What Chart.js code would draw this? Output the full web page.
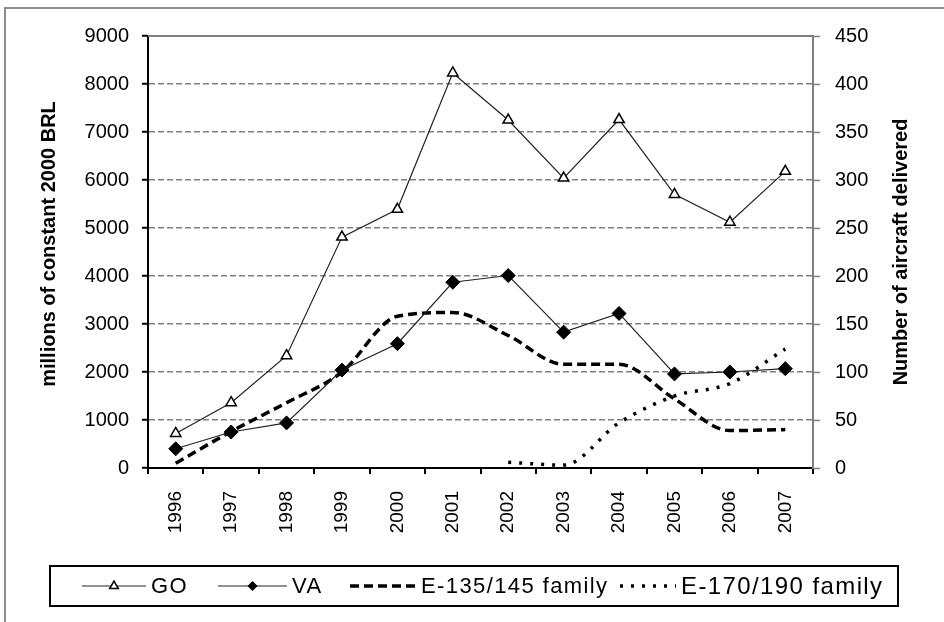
<!DOCTYPE html>
<html lang="en">
<head>
<meta charset="UTF-8">
<title>Revenue and aircraft deliveries 1996-2007</title>
<style>
    body {
        margin: 0;
        background: #fff;
    }
    #wrap {
        width: 944px;
        height: 622px;
    }
</style>
</head>
<body>
<div id="wrap"><canvas id="chart" width="944" height="622"></canvas></div>

<script src="https://cdn.jsdelivr.net/npm/chart.js"></script>
<script>
    // values
    const years = ['1996', '1997', '1998', '1999', '2000', '2001', '2002', '2003', '2004', '2005', '2006', '2007'];
    const goValues = [720, 1360, 2340, 4810, 5390, 8230, 7250, 6040, 7260, 5700, 5120, 6180];
    const vaValues = [400, 750, 940, 2040, 2590, 3870, 4010, 2830, 3220, 1960, 2000, 2070];
    const e135Values = [5, 38, 68, 100, 158, 162, 138, 108, 108, 72, 39, 40];
    const e170Values = [null, null, null, null, null, null, 6, 3, 47, 75, 88, 124];
    const leftTicks = [0, 1000, 2000, 3000, 4000, 5000, 6000, 7000, 8000, 9000];
    const rightTicks = [0, 50, 100, 150, 200, 250, 300, 350, 400, 450];

    const FONT = "'Liberation Sans', Arial, sans-serif";
    const BOLD = "bold 20px 'Liberation Sans', Arial, sans-serif";

    // outer frame, plot frame, axis titles and the boxed legend
    const decorations = {
        id: 'decorations',
        beforeDraw(chart) {
            const ctx = chart.ctx;
            ctx.save();
            ctx.fillStyle = '#fff';
            ctx.fillRect(0, 0, chart.width, chart.height);
            ctx.strokeStyle = '#8c8c8c';
            ctx.lineWidth = 2;
            ctx.beginPath();
            ctx.moveTo(5, chart.height);
            ctx.lineTo(5, 8);
            ctx.lineTo(chart.width, 8);
            ctx.stroke();
            ctx.restore();
        },
        beforeDatasetsDraw(chart) {
            const ctx = chart.ctx;
            const a = chart.chartArea;
            ctx.save();
            ctx.strokeStyle = '#808080';
            ctx.lineWidth = 2;
            ctx.beginPath();
            ctx.moveTo(a.left, a.top);
            ctx.lineTo(a.right, a.top);
            ctx.stroke();
            ctx.restore();
        },
        afterDraw(chart) {
            const ctx = chart.ctx;
            const a = chart.chartArea;
            const midY = (a.top + a.bottom) / 2;
            ctx.save();
            ctx.fillStyle = '#000';
            ctx.font = BOLD;
            ctx.textAlign = 'center';
            ctx.textBaseline = 'middle';

            ctx.save();
            ctx.translate(49, midY - 8);
            ctx.rotate(-Math.PI / 2);
            ctx.fillText('millions of constant 2000 BRL', 0, 0);
            ctx.restore();

            ctx.save();
            ctx.translate(901, midY);
            ctx.rotate(-Math.PI / 2);
            ctx.fillText('Number of aircraft delivered', 0, 0);
            ctx.restore();

            // legend box
            ctx.strokeStyle = '#000';
            ctx.lineWidth = 2;
            ctx.strokeRect(50, 566, 848, 40);

            const y = 586;
            const slots = [
                { x0: 82, x1: 146, tx: 151, r: 5, size: 22 },
                { x0: 218, x1: 287, tx: 292, r: 4, size: 22 },
                { x0: 350, x1: 416, tx: 421, r: 0, size: 22 },
                { x0: 620, x1: 676, tx: 681, r: 0, size: 24 }
            ];
            chart.data.datasets.forEach((ds, i) => {
                const s = slots[i];
                ctx.save();
                ctx.strokeStyle = ds.borderColor;
                ctx.lineWidth = ds.borderWidth;
                ctx.setLineDash(ds.borderDash || []);
                ctx.beginPath();
                ctx.moveTo(s.x0, y);
                ctx.lineTo(s.x1, y);
                ctx.stroke();
                ctx.setLineDash([]);
                if (s.r > 0) {
                    ctx.fillStyle = ds.pointBackgroundColor;
                    ctx.strokeStyle = ds.pointBorderColor;
                    ctx.lineWidth = 1.5;
                    Chart.helpers.drawPoint(ctx, { pointStyle: ds.pointStyle, radius: s.r, rotation: 0, borderWidth: 1.5 }, (s.x0 + s.x1) / 2, y);
                }
                ctx.fillStyle = '#000';
                ctx.font = s.size + 'px ' + FONT;
                ctx.letterSpacing = '1.4px';
                ctx.textAlign = 'left';
                ctx.textBaseline = 'middle';
                ctx.fillText(ds.label, s.tx, y + 1);
                ctx.restore();
            });
            ctx.restore();
        }
    };

    new Chart(document.getElementById('chart'), {
        type: 'line',
        data: {
            labels: years,
            datasets: [
                {
                    label: 'GO',
                    data: goValues,
                    yAxisID: 'y',
                    borderColor: '#222',
                    borderWidth: 1.2,
                    pointStyle: 'triangle',
                    pointRadius: 6,
                    pointBackgroundColor: '#fff',
                    pointBorderColor: '#000',
                    pointBorderWidth: 1.5,
                    tension: 0
                },
                {
                    label: 'VA',
                    data: vaValues,
                    yAxisID: 'y',
                    borderColor: '#222',
                    borderWidth: 1.2,
                    pointStyle: 'rectRot',
                    pointRadius: 7,
                    pointBackgroundColor: '#000',
                    pointBorderColor: '#000',
                    pointBorderWidth: 1,
                    tension: 0
                },
                {
                    label: 'E-135/145 family',
                    data: e135Values,
                    yAxisID: 'y1',
                    borderColor: '#000',
                    borderWidth: 3.5,
                    borderDash: [9, 5],
                    pointRadius: 0,
                    cubicInterpolationMode: 'monotone'
                },
                {
                    label: 'E-170/190 family',
                    data: e170Values,
                    yAxisID: 'y1',
                    borderColor: '#000',
                    borderWidth: 3.5,
                    borderDash: [3, 8],
                    pointRadius: 0,
                    cubicInterpolationMode: 'monotone'
                }
            ]
        },
        options: {
            responsive: false,
            animation: false,
            layout: { padding: { top: 36, left: 0, right: 0, bottom: 0 } },
            plugins: {
                legend: { display: false },
                tooltip: { enabled: false }
            },
            scales: {
                x: {
                    offset: true,
                    grid: {
                        offset: true,
                        drawOnChartArea: false,
                        tickLength: 6,
                        color: '#000',
                        lineWidth: 2
                    },
                    border: { color: '#000', width: 2 },
                    ticks: {
                        minRotation: 90,
                        maxRotation: 90,
                        padding: 17,
                        color: '#000',
                        font: { family: FONT, size: 19 }
                    },
                    afterFit(scale) { scale.height = 154; }
                },
                y: {
                    position: 'left',
                    min: 0,
                    max: 9000,
                    afterBuildTicks(scale) { scale.ticks = leftTicks.map(v => ({ value: v })); },
                    grid: {
                        color: '#808080',
                        lineWidth: 1.5,
                        tickLength: 6,
                        tickColor: '#000',
                        tickWidth: 2,
                        tickBorderDash: []
                    },
                    border: { color: '#000', width: 2, dash: [6, 3] },
                    ticks: {
                        padding: 13,
                        color: '#000',
                        font: { family: FONT, size: 20 },
                        callback: v => String(v)
                    },
                    afterFit(scale) { scale.width = 148; }
                },
                y1: {
                    position: 'right',
                    min: 0,
                    max: 450,
                    afterBuildTicks(scale) { scale.ticks = rightTicks.map(v => ({ value: v })); },
                    grid: {
                        drawOnChartArea: false,
                        tickLength: 7,
                        tickColor: '#808080',
                        tickWidth: 1.5
                    },
                    border: { color: '#808080', width: 2 },
                    ticks: {
                        padding: 15,
                        color: '#000',
                        font: { family: FONT, size: 20 },
                        callback: v => String(v)
                    },
                    afterFit(scale) { scale.width = 131; }
                }
            }
        },
        plugins: [decorations]
    });
</script>
</body>
</html>
